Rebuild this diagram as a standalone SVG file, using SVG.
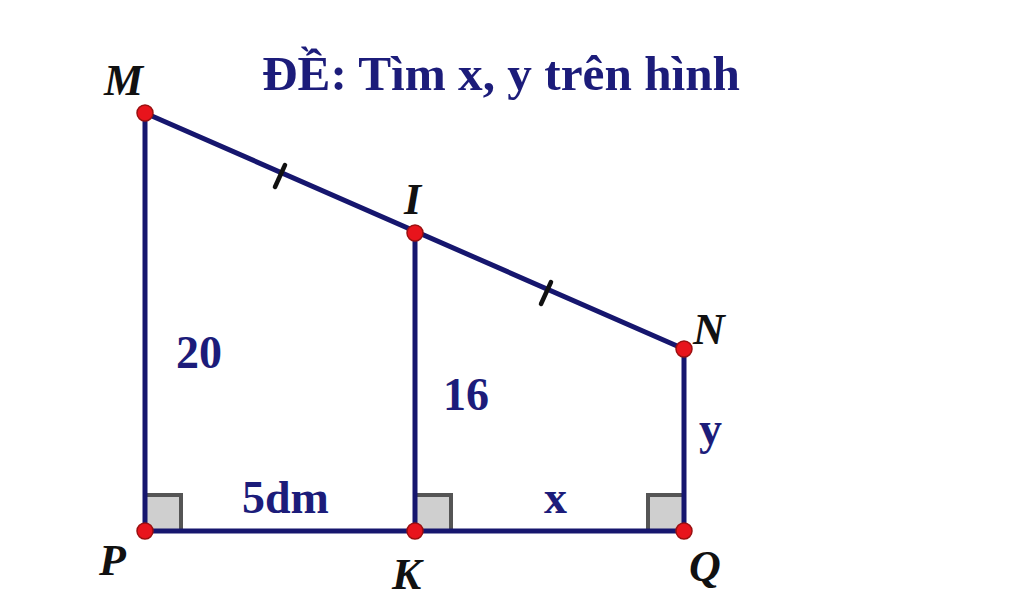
<svg xmlns="http://www.w3.org/2000/svg" width="1024" height="607" viewBox="0 0 1024 607">
<style>
.seg{stroke:#16166e;stroke-width:5;fill:none;stroke-linecap:round}
.tick{stroke:#111;stroke-width:4.5;stroke-linecap:round}
.ra{fill:#cfcfcf;stroke:#555;stroke-width:4}
.pt{fill:#e8141c;stroke:#9a1010;stroke-width:1.5}
.lbl{font-family:"Liberation Serif",serif;font-style:italic;font-weight:bold;font-size:44px;fill:#111}
.num{font-family:"Liberation Serif",serif;font-weight:bold;font-size:46px;fill:#1c1c7a}
.title{font-family:"Liberation Serif",serif;font-weight:bold;font-size:48px;fill:#1c1c7a}
</style>
<rect width="1024" height="607" fill="#fff"/>
<text class="title" x="262" y="90" textLength="478" lengthAdjust="spacingAndGlyphs">ĐỀ: Tìm x, y trên hình</text>
<g id="rightangles">
<rect class="ra" x="145" y="495" width="36" height="36"/>
<rect class="ra" x="415" y="495" width="36" height="36"/>
<rect class="ra" x="648" y="495" width="36" height="36"/>
</g>
<g id="connectors">
<line class="seg" x1="145" y1="113" x2="684" y2="349"/>
<line class="seg" x1="145" y1="113" x2="145" y2="531"/>
<line class="seg" x1="415" y1="233" x2="415" y2="531"/>
<line class="seg" x1="684" y1="349" x2="684" y2="531"/>
<line class="seg" x1="145" y1="531" x2="684" y2="531"/>
<line class="tick" x1="285" y1="165" x2="275" y2="187"/>
<line class="tick" x1="551" y1="282" x2="541" y2="304"/>
</g>
<g id="M"><circle class="pt" cx="145" cy="113" r="8"/><text class="lbl" x="104" y="95">M</text></g>
<g id="I"><circle class="pt" cx="415" cy="233" r="8"/><text class="lbl" x="404" y="214">I</text></g>
<g id="N"><circle class="pt" cx="684" cy="349" r="8"/><text class="lbl" x="693" y="344">N</text></g>
<g id="P"><circle class="pt" cx="145" cy="531" r="8"/><text class="lbl" x="99" y="575">P</text></g>
<g id="K"><circle class="pt" cx="415" cy="531" r="8"/><text class="lbl" x="392" y="589">K</text></g>
<g id="Q"><circle class="pt" cx="684" cy="531" r="8"/><text class="lbl" x="689" y="581">Q</text></g>
<g id="labels">
<text class="num" x="176" y="368">20</text>
<text class="num" x="443" y="410">16</text>
<text class="num" x="699" y="444">y</text>
<text class="num" x="242" y="513">5dm</text>
<text class="num" x="544" y="513">x</text>
</g>
</svg>
